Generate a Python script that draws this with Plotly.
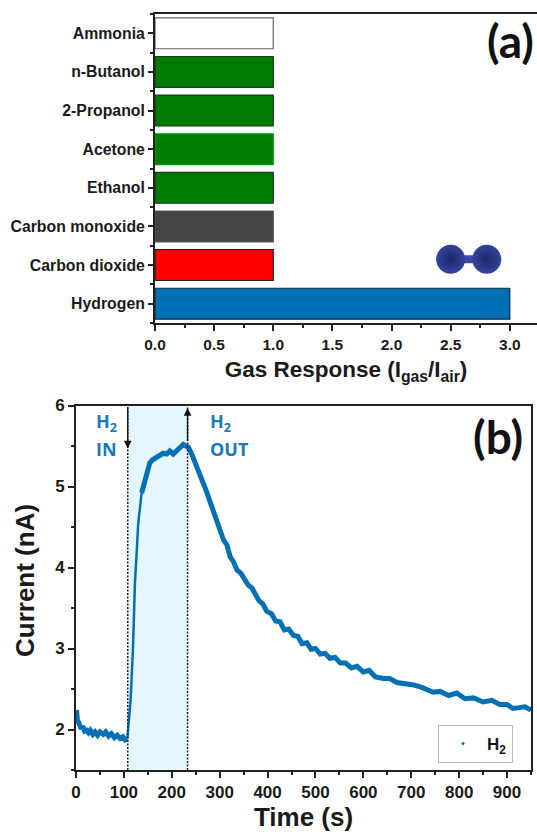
import plotly.graph_objects as go

W, H = 537, 832
FONT = "Liberation Sans"
BLUE = "#0070b5"

# Panel (a) data
gases = ["Hydrogen", "Carbon dioxide", "Carbon monoxide", "Ethanol",
         "Acetone", "2-Propanol", "n-Butanol", "Ammonia"]
responses = [3.0, 1.0, 1.0, 1.0, 1.0, 1.0, 1.0, 1.0]
bar_colors = ["#0070b5", "#ff0000", "#444444", "#007a00",
              "#007a00", "#007a00", "#007a00", "#ffffff"]
bar_lines = ["#1a2a3a", "#222222", "#555555", "#1c3a1c",
             "#00a000", "#1c3a1c", "#1c3a1c", "#666666"]
x_ticks_a = [0.0, 0.5, 1.0, 1.5, 2.0, 2.5, 3.0]
molecule_x = [2.5, 2.805]
molecule_y = [1.15, 1.15]

# Panel (b) data: baseline, rise, then plateau and decay
base_t = [0, 1, 3, 5, 8, 11, 14, 18, 22, 26, 30, 35, 40, 45, 50, 57, 62, 68, 74, 80, 86, 92, 98, 103, 107]
base_i = [2.10, 2.24, 2.12, 2.08, 2.05, 2.01, 2.04, 1.98, 1.99, 1.96, 1.99, 1.94, 1.97, 1.93, 1.97,
          1.94, 1.97, 1.92, 1.95, 1.90, 1.93, 1.89, 1.91, 1.87, 1.88]
rise_t = [107, 110, 114, 119, 123, 127, 130, 137]
rise_i = [1.88, 2.08, 2.36, 3.00, 3.80, 4.22, 4.55, 4.92]
decay_t = [137, 144, 149, 154, 160, 167, 175, 182, 189, 196, 203, 210, 217, 224, 229, 234, 241, 248,
           257, 266, 273, 280, 287, 294, 301, 308, 315, 322, 329, 336, 344, 353, 360, 367, 374, 382,
           390, 398, 408, 417, 426, 435, 444, 454, 463, 472, 482, 491, 500, 510, 520, 530, 541, 552,
           563, 575, 587, 600, 612, 625, 642, 655, 670, 688, 705, 722, 746, 760, 778, 795, 812, 830,
           850, 868, 885, 900, 912, 925, 937, 950]
decay_i = [4.92, 5.10, 5.21, 5.29, 5.33, 5.35, 5.38, 5.41, 5.40, 5.44, 5.40, 5.44, 5.48, 5.52, 5.50,
           5.49, 5.41, 5.31, 5.19, 5.06, 4.93, 4.81, 4.70, 4.57, 4.47, 4.34, 4.28, 4.13, 4.07, 3.97,
           3.93, 3.83, 3.78, 3.75, 3.66, 3.59, 3.55, 3.46, 3.43, 3.34, 3.33, 3.23, 3.24, 3.16, 3.15,
           3.06, 3.07, 2.99, 3.00, 2.93, 2.94, 2.88, 2.89, 2.82, 2.82, 2.76, 2.78, 2.71, 2.73, 2.65,
           2.63, 2.63, 2.58, 2.57, 2.55, 2.52, 2.46, 2.47, 2.42, 2.45, 2.38, 2.39, 2.34, 2.36, 2.31,
           2.31, 2.26, 2.27, 2.28, 2.24]
gas_in, gas_out = 108, 233
x_ticks_b = [0, 100, 200, 300, 400, 500, 600, 700, 800, 900]
y_ticks_b = [2, 3, 4, 5, 6]


def px(x):
    return x / W


def py(y):
    return 1 - y / H


def axis_font(size):
    return dict(family=FONT, size=size, color="#1a1a1a", weight=700)


fig = go.Figure()

fig.add_trace(go.Bar(
    x=responses, y=list(range(len(gases))), orientation="h", width=0.8,
    marker=dict(color=bar_colors, line=dict(color=bar_lines, width=1.2)),
    xaxis="x", yaxis="y", showlegend=False,
))
fig.add_trace(go.Scatter(
    x=molecule_x, y=molecule_y, mode="lines", line=dict(color="#3a4aa8", width=8),
    xaxis="x", yaxis="y", showlegend=False,
))
fig.add_trace(go.Scatter(
    x=molecule_x, y=molecule_y, mode="markers",
    marker=dict(size=29, color="#34439a",
                gradient=dict(type="radial", color="#1c2768"),
                line=dict(width=0)),
    xaxis="x", yaxis="y", showlegend=False,
))

for seg_t, seg_i, seg_w in [(base_t, base_i, 5), (rise_t, rise_i, 2.5), (decay_t, decay_i, 5)]:
    fig.add_trace(go.Scatter(
        x=seg_t, y=seg_i, mode="lines", line=dict(color=BLUE, width=seg_w),
        xaxis="x2", yaxis="y2", showlegend=False,
    ))
fig.add_trace(go.Scatter(
    x=[None], y=[None], mode="markers", name="H<sub>2</sub>",
    marker=dict(color=BLUE, size=3),
    xaxis="x2", yaxis="y2", showlegend=True,
))

line_a = dict(showline=True, linecolor="#222222", linewidth=2, ticks="outside", automargin=False,
              tickcolor="#222222", tickwidth=2, showgrid=False, zeroline=False)
minor_tick = dict(ticks="outside", ticklen=3, tickwidth=1.5, tickcolor="#222222")
note_font = dict(family="Open Sans", size=18, color="#1a78b8", weight=700)

fig.update_layout(
    template="none",
    width=W, height=H, margin=dict(l=0, r=0, t=0, b=0), autosize=False,
    paper_bgcolor="white", plot_bgcolor="white",
    barmode="overlay",
    xaxis=dict(domain=[px(155), 1], range=[0, 3.23], anchor="y", mirror=True,
               tickvals=x_ticks_a, ticktext=[f"{v:.1f}" for v in x_ticks_a],
               ticklen=6, tickfont=axis_font(15.5),
               minor=dict(dtick=0.25, **minor_tick),
               title=dict(text="Gas Response (I<sub>gas</sub>/I<sub>air</sub>)",
                          font=axis_font(22.5), standoff=10),
               **line_a),
    yaxis=dict(domain=[py(323), py(14)], range=[-0.5, 7.5], anchor="x",
               tickvals=list(range(len(gases))), ticktext=gases,
               ticklen=5, tickfont=axis_font(15.8),
               minor=dict(tickvals=[i - 0.5 for i in range(len(gases) + 1)], **minor_tick),
               **line_a),
    xaxis2=dict(domain=[px(76), px(531)], range=[0, 950], anchor="y2", mirror=True,
                tickvals=x_ticks_b, ticklen=6, tickfont=axis_font(17),
                minor=dict(dtick=50, **minor_tick),
                title=dict(text="Time (s)", font=axis_font(26), standoff=4),
                **line_a),
    yaxis2=dict(domain=[py(770), py(405.5)], range=[1.5, 6], anchor="x2", mirror=True,
                tickvals=y_ticks_b, ticklen=6, tickfont=axis_font(17),
                minor=dict(dtick=0.5, **minor_tick),
                **line_a),
    legend=dict(x=px(438), y=py(725), xanchor="left", yanchor="top",
                bgcolor="white", bordercolor="#bbbbbb", borderwidth=1,
                font=dict(family=FONT, size=17, color="#1a1a1a", weight=700),
                itemwidth=38, tracegroupgap=0),
    shapes=[
        dict(type="rect", xref="x2", yref="y2", x0=gas_in, x1=gas_out, y0=1.5, y1=6,
             fillcolor="#e4f6fe", line=dict(width=0), layer="below"),
        dict(type="line", xref="x2", yref="y2", x0=gas_in, x1=gas_in, y0=1.5, y1=6,
             line=dict(color="#222222", width=1.5, dash="2px,1.5px"), layer="above"),
        dict(type="line", xref="x2", yref="y2", x0=gas_out, x1=gas_out, y0=1.5, y1=6,
             line=dict(color="#222222", width=1.5, dash="2px,1.5px"), layer="above"),
    ],
    annotations=[
        dict(text="Current (nA)", x=px(25), y=py(581), xref="paper", yref="paper",
             xanchor="center", yanchor="middle", textangle=-90, showarrow=False,
             font=axis_font(26)),
        dict(text="(a)", x=px(510), y=py(41), xref="paper", yref="paper", showarrow=False,
             xanchor="center", yanchor="middle",
             font=dict(family="Lato", size=46, color="#111111", weight=700)),
        dict(text="(b)", x=px(498), y=py(436), xref="paper", yref="paper", showarrow=False,
             xanchor="center", yanchor="middle",
             font=dict(family="Lato", size=46, color="#111111", weight=700)),
        dict(text="H<sub>2</sub>", x=px(94), y=py(422), xref="paper", yref="paper", xanchor="left",
             showarrow=False, font=note_font),
        dict(text="IN", x=px(94), y=py(449), xref="paper", yref="paper", xanchor="left",
             showarrow=False, font=note_font),
        dict(text="H<sub>2</sub>", x=px(208), y=py(422), xref="paper", yref="paper", xanchor="left",
             showarrow=False, font=note_font),
        dict(text="OUT", x=px(208), y=py(449), xref="paper", yref="paper", xanchor="left",
             showarrow=False, font=note_font),
        dict(x=gas_in, y=5.47, ax=gas_in, ay=6, xref="x2", yref="y2", axref="x2", ayref="y2",
             showarrow=True, arrowhead=2, arrowsize=1.1, arrowwidth=1.4, arrowcolor="#111111", text=""),
        dict(x=gas_out, y=5.97, ax=gas_out, ay=5.55, xref="x2", yref="y2", axref="x2", ayref="y2",
             showarrow=True, arrowhead=2, arrowsize=1.1, arrowwidth=1.4, arrowcolor="#111111", text=""),
    ],
)

fig.write_html("out.html", post_script="document.body.style.margin='0';",
               config={"displayModeBar": False})
